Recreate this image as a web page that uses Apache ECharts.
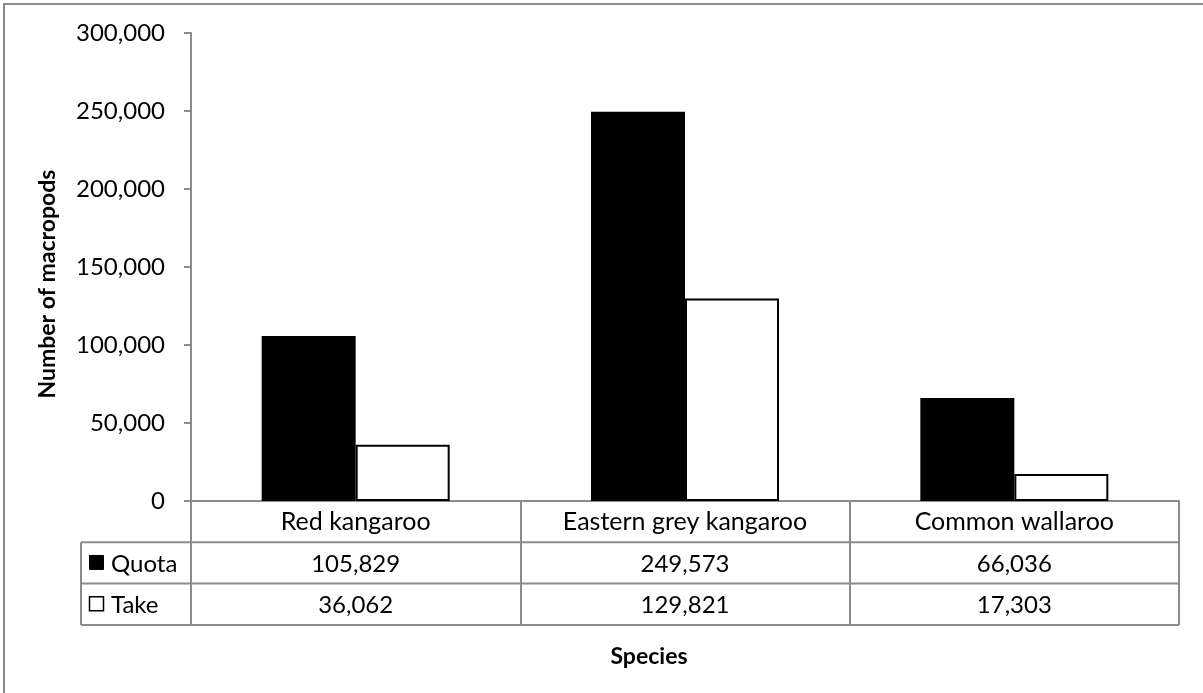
<!DOCTYPE html>
<html>
<head>
<meta charset="utf-8">
<script src="https://cdn.jsdelivr.net/npm/echarts@6/dist/echarts.min.js"></script>
<style>
  html, body { margin: 0; padding: 0; background: #fff; }
  #chart { width: 1203px; height: 693px; }
</style>
</head>
<body>
<div id="chart"></div>
<script>
// Commercial macropod harvest: quota vs actual take, by species
const categories = ['Red kangaroo', 'Eastern grey kangaroo', 'Common wallaroo'];
const quota = [105829, 249573, 66036];
const take = [36062, 129821, 17303];
const seriesNames = ['Quota', 'Take'];
const yMin = 0;
const yMax = 300000;
const yStep = 50000;

const FONT = 'Lato';
const FS = 24;
const GRID = { left: 191, right: 24, top: 33, bottom: 192 };
const LINE = '#8c8c8c';
const ROW_H = 41.3;

const fmt = v => v.toLocaleString('en-US');

const chart = echarts.init(document.getElementById('chart'), null, { renderer: 'canvas' });

chart.setOption({
  backgroundColor: '#ffffff',
  animation: false,
  grid: { left: GRID.left, right: GRID.right, top: GRID.top, bottom: GRID.bottom, containLabel: false },
  xAxis: {
    type: 'category',
    data: categories,
    boundaryGap: true,
    axisLine: { show: true, lineStyle: { color: LINE, width: 2 } },
    axisTick: { show: true, length: ROW_H * 3, lineStyle: { color: LINE, width: 2 } },
    axisLabel: { color: '#000', fontFamily: FONT, fontSize: 25, margin: 7, lineHeight: 28, interval: 0 }
  },
  yAxis: {
    type: 'value',
    min: yMin,
    max: yMax,
    interval: yStep,
    axisLine: { show: true, lineStyle: { color: LINE, width: 2 } },
    axisTick: { show: true, length: 7, lineStyle: { color: LINE, width: 2 } },
    splitLine: { show: false },
    axisLabel: { color: '#000', fontFamily: FONT, fontSize: FS, margin: 26, formatter: v => fmt(v) }
  },
  series: [
    {
      name: seriesNames[0],
      type: 'bar',
      data: quota,
      barWidth: 94,
      barGap: '0%',
      itemStyle: { color: '#000000' }
    },
    {
      name: seriesNames[1],
      type: 'bar',
      data: take,
      barWidth: 94,
      barGap: '0%',
      itemStyle: { color: '#ffffff', borderColor: '#000000', borderWidth: 2 }
    }
  ]
});

// Data table under the plot, plus axis titles and chart frame
const W = 1203, H = 693;
const axisY = H - GRID.bottom;
const tableLeft = 81;
const tableRight = W - GRID.right;
const rowTops = [axisY + ROW_H, axisY + ROW_H * 2, axisY + ROW_H * 3];
const rowsData = [quota, take];

const graphics = [];
// chart frame
graphics.push({ type: 'rect', shape: { x: 4, y: 4, width: W + 20, height: H + 20 }, style: { fill: 'none', stroke: LINE, lineWidth: 2 }, silent: true });

// horizontal table lines
rowTops.forEach(y => {
  graphics.push({ type: 'line', shape: { x1: tableLeft, y1: y, x2: tableRight, y2: y }, style: { stroke: LINE, lineWidth: 2 }, silent: true });
});
// left edge of legend column
graphics.push({ type: 'line', shape: { x1: tableLeft, y1: rowTops[0], x2: tableLeft, y2: rowTops[2] }, style: { stroke: LINE, lineWidth: 2 }, silent: true });

// legend keys and series names
rowsData.forEach((vals, r) => {
  const cy = (rowTops[r] + rowTops[r + 1]) / 2;
  graphics.push({
    type: 'rect',
    shape: { x: 89.5, y: cy - 7.5, width: 14, height: 14 },
    style: r === 0 ? { fill: '#000', stroke: '#000', lineWidth: 1 } : { fill: '#fff', stroke: '#000', lineWidth: 1.5 },
    silent: true
  });
  graphics.push({
    type: 'text',
    style: { text: seriesNames[r], x: 111, y: cy + 1, align: 'left', verticalAlign: 'middle', fill: '#000', fontFamily: FONT, fontSize: FS },
    silent: true
  });
  vals.forEach((v, i) => {
    const cx = chart.convertToPixel({ xAxisIndex: 0 }, i);
    graphics.push({
      type: 'text',
      style: { text: fmt(v), x: cx, y: cy + 1, align: 'center', verticalAlign: 'middle', fill: '#000', fontFamily: FONT, fontSize: FS },
      silent: true
    });
  });
});

// axis titles
graphics.push({
  type: 'text',
  x: 48, y: 284, rotation: Math.PI / 2,
  style: { text: 'Number of macropods', x: 0, y: 0, align: 'center', verticalAlign: 'middle', fill: '#000', fontFamily: FONT, fontSize: 23, fontWeight: 'bold' },
  silent: true
});
graphics.push({
  type: 'text',
  style: { text: 'Species', x: 649, y: 657, align: 'center', verticalAlign: 'middle', fill: '#000', fontFamily: FONT, fontSize: 23, fontWeight: 'bold' },
  silent: true
});

chart.setOption({ graphic: graphics });
</script>
</body>
</html>
